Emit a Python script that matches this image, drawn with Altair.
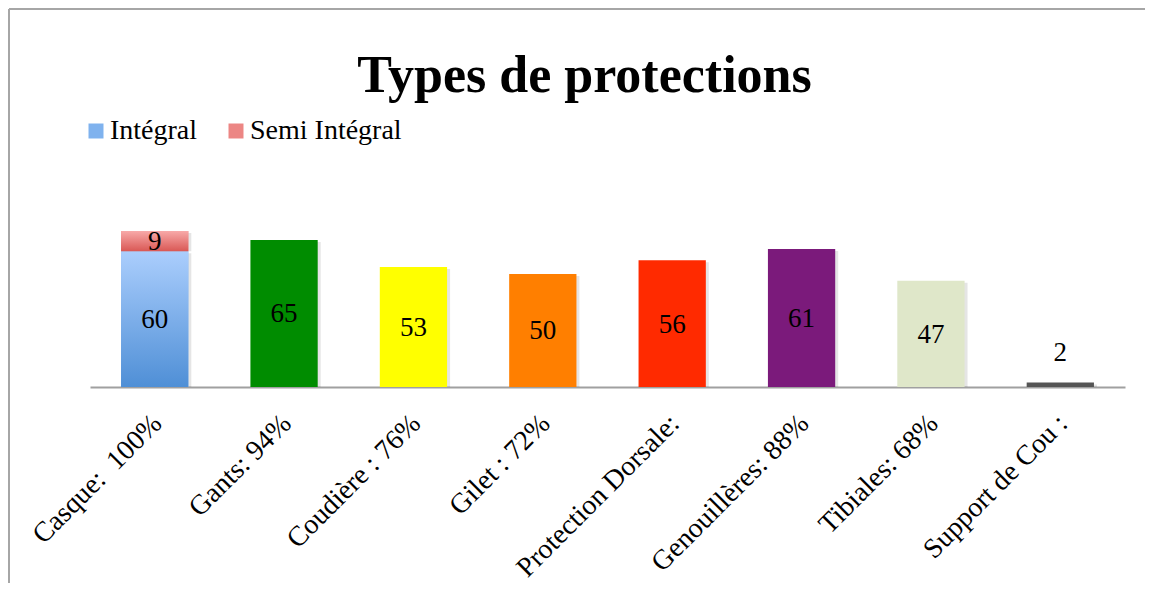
import altair as alt
import pandas as pd

categories = ["Casque:\u00a0 100%", "Gants: 94%", "Coudière : 76%", "Gilet : 72%",
              "Protection Dorsale:", "Genouillères: 88%", "Tibiales: 68%", "Support de Cou :"]
integral = [60, 65, 53, 50, 56, 61, 47, 2]
semi = [9, 0, 0, 0, 0, 0, 0, 0]
bar_colors = ["#5a9be0", "#008c00", "#ffff00", "#ff7f00", "#ff2a00", "#7b1a7b", "#dfe7c9", "#555555"]
series_names = ["Intégral", "Semi Intégral"]
series_colors = ["#7fb2ee", "#ec8684"]

rows = []
for c, v, s, col in zip(categories, integral, semi, bar_colors):
    rows.append({"cat": c, "series": "Intégral", "y0": 0, "y1": v, "value": v, "color": col})
    if s > 0:
        rows.append({"cat": c, "series": "Semi Intégral", "y0": v, "y1": v + s, "value": s, "color": col})
df = pd.DataFrame(rows)

FONT = "Liberation Serif"
W, H = 1035, 181

x_enc = alt.X("cat:N", sort=categories,
              scale=alt.Scale(paddingInner=0.48, paddingOuter=0.24),
              axis=alt.Axis(title=None, labelAngle=-45, labelAlign="right", labelBaseline="middle",
                            labelFont=FONT, labelFontSize=28, labelColor="black", labelLimit=500,
                            labelPadding=32, labelOffset=3, ticks=False, tickSize=0,
                            domainColor="#a0a0a0", domainWidth=2, grid=False))
y_scale = alt.Scale(domain=[0, 80], nice=False)
y_enc = alt.Y("y1:Q", scale=y_scale, axis=None)

base = alt.Chart(df)

shadow = base.mark_bar(color="#000000", opacity=0.10, xOffset=3, yOffset=2).encode(
    x=x_enc, y=y_enc, y2="y0:Q")

others = base.transform_filter(alt.datum.cat != categories[0]).mark_bar().encode(
    x=x_enc, y=y_enc, y2="y0:Q",
    color=alt.Color("cat:N", scale=alt.Scale(domain=categories[1:], range=bar_colors[1:]), legend=None))

casque_flat = base.transform_filter(alt.datum.cat == categories[0]).mark_bar().encode(
    x=x_enc, y=y_enc, y2="y0:Q",
    color=alt.Color("series:N", scale=alt.Scale(domain=series_names, range=series_colors),
                    legend=alt.Legend(orient="none", legendX=-8, legendY=-89, direction="horizontal",
                                      title=None, symbolType="square", symbolSize=225,
                                      symbolStrokeWidth=0, labelFont=FONT, labelFontSize=28,
                                      labelColor="black", columnPadding=24, labelOffset=0)))

grad_int = {"gradient": "linear", "x1": 0, "y1": 0, "x2": 0, "y2": 1,
            "stops": [{"offset": 0, "color": "#abcefd"}, {"offset": 1, "color": "#4f8fd6"}]}
grad_semi = {"gradient": "linear", "x1": 0, "y1": 0, "x2": 0, "y2": 1,
             "stops": [{"offset": 0, "color": "#f8aaa9"}, {"offset": 1, "color": "#d95855"}]}

casque_int = base.transform_filter(
    (alt.datum.cat == categories[0]) & (alt.datum.series == "Intégral")
).mark_bar(fill=grad_int).encode(x=x_enc, y=y_enc, y2="y0:Q")

casque_semi = base.transform_filter(
    (alt.datum.cat == categories[0]) & (alt.datum.series == "Semi Intégral")
).mark_bar(fill=grad_semi).encode(x=x_enc, y=y_enc, y2="y0:Q")

labels_mid = base.transform_filter(alt.datum.value >= 5).transform_calculate(
    mid="(datum.y0 + datum.y1) / 2"
).mark_text(font=FONT, fontSize=27, color="black", baseline="middle", dy=1).encode(
    x=x_enc, y=alt.Y("mid:Q", scale=y_scale, axis=None), text="value:Q")

labels_top = base.transform_filter(alt.datum.value < 5).mark_text(
    font=FONT, fontSize=27, color="black", baseline="alphabetic", dy=-21
).encode(x=x_enc, y=y_enc, text="value:Q")

frame = alt.Chart(pd.DataFrame({"a": [0]}))
border_top = frame.mark_rule(stroke="#a6a6a6", strokeWidth=2).encode(
    x=alt.value(-81), x2=alt.value(1100), y=alt.value(-197))
border_left = frame.mark_rule(stroke="#a6a6a6", strokeWidth=2).encode(
    x=alt.value(-81), y=alt.value(-197), y2=alt.value(420))

chart = alt.layer(border_top, border_left, shadow, others, casque_flat, casque_int, casque_semi,
                  labels_mid, labels_top).resolve_scale(
    color="independent"
).properties(
    width=W, height=H,
    title=alt.TitleParams(text="Types de protections", font=FONT, fontSize=52, fontWeight="bold",
                          color="black", anchor="middle", dx=-23, dy=95, offset=0),
    padding={"left": 82, "top": 198, "right": 20, "bottom": 196},
    autosize=alt.AutoSizeParams(type="none")
).configure(background="white").configure_view(stroke=None)

chart.save("out.html", embed_options={"renderer": "svg", "actions": False})
